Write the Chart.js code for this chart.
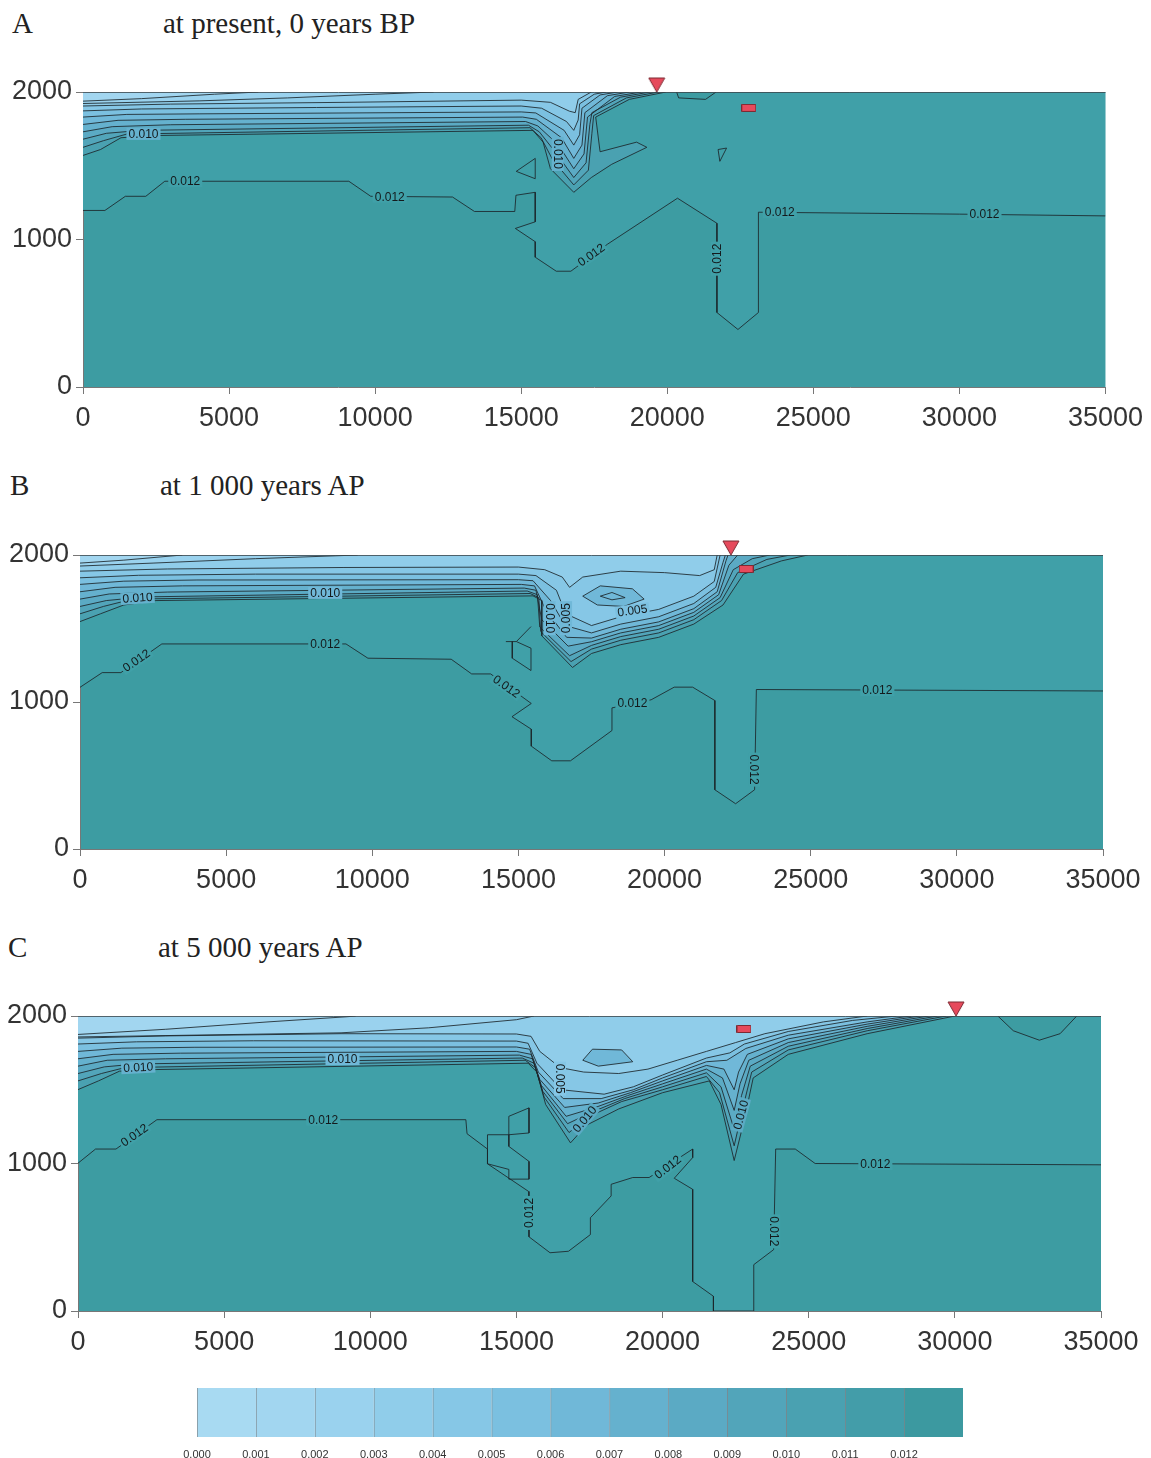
<!DOCTYPE html>
<html>
<head>
<meta charset="utf-8">
<script src="https://cdn.jsdelivr.net/npm/chart.js@4.4.1/dist/chart.umd.min.js"></script>
<style>
  body { margin: 0; background: #fff; width: 1151px; height: 1458px; position: relative; overflow: hidden; }
  .ttl { position: absolute; font-family: 'Liberation Serif', 'Times New Roman', serif; font-size: 29px; line-height: 29px; color: #222; white-space: nowrap; }
  canvas { position: absolute; }
</style>
</head>
<body>
<div class="ttl" style="left:12px;top:9px">A</div>
<div class="ttl" style="left:163px;top:9px">at present, 0 years BP</div>
<div class="ttl" style="left:10px;top:471px">B</div>
<div class="ttl" style="left:160px;top:471px">at 1 000 years AP</div>
<div class="ttl" style="left:8px;top:933px">C</div>
<div class="ttl" style="left:158px;top:933px">at 5 000 years AP</div>

<script>
// axis ticks
const xTicks = [0, 5000, 10000, 15000, 20000, 25000, 30000, 35000];
const yTicks = [0, 1000, 2000];

// colour scale (0.000 .. 0.012)
const scaleLabels = ['0.000', '0.001', '0.002', '0.003', '0.004', '0.005', '0.006', '0.007', '0.008', '0.009', '0.010', '0.011', '0.012'];
const cellColors = ['#a8daf2', '#a2d6f0', '#9ad2ee', '#90cdea', '#86c7e6', '#7bc0e0', '#70b8d8', '#65b1ce', '#5baac4', '#52a5ba', '#4aa1b1', '#439da9', '#3c99a0'];
const bodyColor = '#3d9ca2';
const nearBodyColor = '#40a0a8';

// well (triangle) and gauge (rectangle) positions
const wellX = [19640, 22270, 30040];
const gaugePts = [[22790, 1892], [22790, 1905], [22785, 1912]];

// ---------- A: at present ----------
const A12 = [[0,1197],[750,1197],[1450,1293],[2150,1293],[2800,1395],[9100,1395],[9850,1293],[12650,1288],[13400,1190],[14780,1190],[14820,1300],[15480,1320],[15480,1120],[14800,1075],[15480,985],[15480,880],[16200,785],[16700,785],[17960,969],[20350,1280],[21700,1110],[21700,505],[22420,390],[23120,505],[23120,1185],[30000,1172],[35000,1160]];
const A11 = [[0,1570],[600,1610],[1300,1690],[2500,1705],[15400,1740],[15750,1660],[16000,1480],[16800,1320],[17400,1420],[18100,1510],[19300,1625],[18950,1660],[17700,1595],[17550,1830],[18700,1950],[19950,2000]];
const A10 = [[0,1625],[700,1670],[1500,1715],[15300,1758],[15680,1690],[16080,1540],[16800,1370],[17300,1470],[17420,1720],[17480,1840],[18600,1960],[19700,2000]];
const A9 = [[0,1680],[800,1720],[2000,1740],[15250,1775],[15620,1730],[16180,1590],[16800,1420],[17220,1520],[17350,1780],[17420,1860],[18400,1965],[19400,2000]];
const A8 = [[0,1730],[1000,1765],[3000,1778],[15150,1800],[15570,1770],[16280,1640],[16800,1480],[17150,1580],[17270,1830],[18200,1970],[19100,2000]];
const A7 = [[0,1780],[1200,1808],[3500,1815],[15050,1830],[15520,1815],[16380,1690],[16800,1550],[17080,1640],[17180,1860],[17950,1975],[18700,2000]];
const A6 = [[0,1830],[1500,1848],[4000,1852],[15000,1865],[15500,1858],[16470,1740],[16800,1640],[17000,1710],[17080,1890],[17700,1980],[18300,2000]];
const A5 = [[0,1872],[2000,1885],[8000,1895],[15000,1905],[15700,1890],[16550,1800],[16800,1740],[16950,1810],[17000,1920],[17500,1985],[17900,2000]];
const A4 = [[0,1905],[3000,1918],[9000,1930],[15000,1945],[16000,1930],[16650,1870],[16850,1860],[16950,1950],[17400,2000]];
const A3 = [[0,1922],[4000,1940],[7000,1960],[10000,1985],[12000,2000]];
const A2 = [[0,1938],[2000,1955],[4500,1985],[6000,2000]];
const A_top = [[20320,2000],[20390,1960],[21310,1950],[21670,2000]];
const A_tri1 = [[15480,1550],[14830,1462],[15480,1412],[15480,1550]];
const A_tri2 = [[21740,1610],[22030,1620],[21800,1530],[21740,1610]];
const labelsA = [[2070,1716,'0.010',0],[3500,1395,'0.012',0],[10500,1290,'0.012',0],[16250,1580,'0.010',90],[17400,895,'0.012',-35],[21700,870,'0.012',-90],[23850,1185,'0.012',0],[30860,1172,'0.012',0]];

// ---------- B: 1 000 years AP ----------
const B12 = [[0,1100],[760,1200],[1400,1200],[2800,1395],[9100,1395],[9850,1298],[12700,1291],[13400,1191],[14050,1191],[15440,990],[14780,900],[15440,815],[15440,700],[16140,600],[16780,600],[18200,806],[18200,960],[19540,1015],[20330,1101],[20960,1101],[21720,1010],[21720,403],[22430,308],[23080,403],[23140,1085],[35000,1075]];
const B11 = [[0,1547],[700,1600],[1500,1660],[2600,1690],[15500,1722],[15800,1690],[15800,1450],[16850,1235],[17500,1330],[18500,1390],[19800,1440],[21000,1530],[22000,1660],[22700,1870],[24000,1960],[24900,2000]];
const B10 = [[0,1600],[800,1650],[1800,1700],[15400,1738],[15700,1710],[15760,1480],[16800,1275],[17500,1360],[18500,1420],[19800,1470],[21000,1560],[21950,1690],[22500,1880],[23500,1970],[24300,2000]];
const B9 = [[0,1650],[900,1690],[2200,1715],[15300,1755],[15650,1730],[15730,1510],[16750,1315],[17500,1385],[18500,1445],[19800,1495],[21000,1585],[21900,1710],[22350,1900],[23000,1975],[23600,2000]];
const B8 = [[0,1700],[1000,1735],[3000,1748],[15200,1775],[15600,1760],[15800,1560],[16700,1380],[17500,1410],[18500,1470],[19800,1520],[21000,1610],[21850,1730],[22200,1930],[22500,2000]];
const B7 = [[0,1750],[1200,1780],[3500,1790],[15100,1800],[15550,1790],[15950,1620],[16650,1440],[17500,1435],[18500,1495],[19800,1545],[21000,1635],[21800,1750],[22100,1960],[22170,2000]];
const B6 = [[0,1800],[1500,1822],[4000,1830],[15000,1832],[15500,1825],[16100,1690],[16600,1520],[17500,1470],[18500,1530],[19800,1580],[21000,1670],[21750,1780],[22000,1950],[22080,2000]];
const B5 = [[0,1845],[2000,1862],[6000,1870],[15000,1870],[15600,1860],[16300,1760],[16620,1600],[17500,1520],[18500,1580],[19800,1630],[21000,1720],[21700,1820],[21900,2000]];
const B4 = [[0,1890],[3000,1905],[9000,1915],[15000,1918],[15900,1900],[16500,1850],[16750,1780],[17200,1850],[18500,1890],[20000,1880],[21200,1860],[21700,1900],[21800,2000]];
const B3 = [[0,1925],[2500,1945],[6000,1975],[9500,2000]];
const B2 = [[0,1945],[1500,1965],[3500,2000]];
const B_loop1 = [[17200,1720],[17700,1660],[18600,1650],[19300,1700],[18900,1770],[17800,1790],[17200,1720]];
const B_loop2 = [[17800,1720],[18200,1695],[18650,1710],[18200,1745],[17800,1720]];
const B_k1 = [[15430,1513],[14930,1411],[14570,1411]];
const B_k2 = [[14790,1411],[14790,1298],[15430,1214],[15430,1366],[14930,1411]];
const labelsB = [[1970,1708,'0.010',-4],[8390,1742,'0.010',0],[1930,1282,'0.012',-35],[8390,1395,'0.012',0],[14590,1105,'0.012',35],[16070,1570,'0.010',90],[16630,1570,'0.005',-90],[18900,1622,'0.005',-8],[18900,990,'0.012',0],[23060,540,'0.012',90],[27280,1080,'0.012',0]];

// ---------- C: 5 000 years AP ----------
const C12 = [[0,1002],[600,1098],[1300,1098],[2700,1297],[13270,1297],[13310,1202],[14010,1098],[14010,998],[15420,810],[15430,503],[16150,395],[16780,405],[17530,518],[17530,632],[18240,780],[18240,859],[18980,905],[19540,905],[21030,1098],[21030,1040],[20400,900],[21030,825],[21030,200],[21740,100],[21740,0],[23120,0],[23120,314],[23800,416],[23870,1098],[24540,1098],[25220,1000],[35000,991]];
const C11 = [[0,1501],[700,1560],[1420,1626],[2700,1637],[15400,1680],[15700,1620],[16000,1400],[16850,1140],[17400,1260],[18500,1370],[20000,1480],[21600,1560],[22000,1400],[22450,1020],[22800,1300],[23100,1580],[24300,1740],[27000,1880],[30000,2000]];
const C10 = [[0,1560],[800,1610],[1600,1650],[15300,1700],[15650,1650],[15950,1450],[16800,1210],[17500,1320],[18600,1420],[20000,1500],[21500,1590],[21950,1480],[22450,1120],[22750,1380],[23050,1620],[24300,1770],[27000,1900],[29700,2000]];
const C9 = [[0,1610],[900,1655],[2000,1675],[15200,1715],[15600,1680],[15900,1490],[16750,1270],[17600,1350],[18700,1440],[20000,1520],[21500,1615],[22000,1520],[22450,1230],[22700,1460],[23000,1660],[24300,1795],[27000,1915],[29400,2000]];
const C8 = [[0,1660],[1000,1700],[3000,1710],[15100,1735],[15550,1710],[15850,1530],[16700,1320],[17700,1380],[18800,1460],[20000,1540],[21500,1640],[22050,1580],[22450,1360],[22650,1540],[22950,1700],[24300,1820],[27000,1930],[29100,2000]];
const C7 = [[0,1710],[1200,1740],[3500,1748],[15000,1760],[15500,1740],[15800,1570],[16650,1380],[17800,1410],[18900,1480],[20000,1560],[21500,1665],[22100,1640],[22450,1500],[22600,1620],[22900,1740],[24300,1845],[27000,1945],[28800,2000]];
const C6 = [[0,1760],[1500,1782],[4000,1788],[15000,1790],[15450,1775],[15750,1620],[16600,1440],[17900,1440],[19000,1500],[20000,1580],[21500,1690],[22200,1700],[22850,1780],[24300,1870],[27000,1960],[28500,2000]];
const C5 = [[0,1810],[2000,1825],[6000,1832],[15000,1830],[15400,1815],[15700,1680],[16550,1500],[18000,1470],[19000,1520],[20000,1600],[21500,1715],[22300,1750],[22800,1810],[24300,1895],[26500,1970],[28000,2000]];
const C4 = [[0,1850],[3000,1865],[9000,1880],[15000,1878],[15500,1862],[15800,1760],[16500,1650],[17300,1620],[18500,1610],[19500,1640],[20500,1700],[21500,1760],[22500,1820],[23500,1880],[25500,1960],[27000,2000]];
const C3 = [[0,1875],[3000,1910],[6500,1960],[9200,1995],[9500,2000]];
const C2 = [[0,1858],[9000,1886],[12000,1920],[15000,1975],[15600,2000]];
const C_bump = [[31470,2000],[32000,1900],[32890,1836],[33600,1880],[34170,2000]];
const C_loop1 = [[17270,1700],[17800,1660],[18980,1690],[18600,1770],[17600,1775],[17270,1700]];
const C_k1 = [[14010,1098],[14010,1195],[14740,1195],[14740,1320],[15430,1377],[15430,1207],[14740,1195]];
const C_k2 = [[14740,1195],[14740,1116],[15430,1014],[15430,894],[14740,894],[14740,960],[14010,998]];
const labelsC = [[2060,1651,'0.010',-3],[9050,1708,'0.010',0],[1930,1192,'0.012',-35],[8390,1297,'0.012',0],[15420,665,'0.012',-90],[16490,1575,'0.005',90],[17340,1300,'0.010',-50],[22680,1330,'0.010',-75],[20180,975,'0.012',-38],[23820,540,'0.012',90],[27280,996,'0.012',0]];

const panels = [
  { id: 'A', top: 92, bottom: 387, left: 83, right: 1106,
    bands: [[A12,12],[A11,11],[A10,10],[A9,9],[A8,8],[A7,7],[A6,6],[A5,5],[A4,4],[A3,3],[A2,2]],
    bumps: [A_top], loops: [], islands: [A_tri1, A_tri2], labels: labelsA, well: wellX[0], gauge: gaugePts[0] },
  { id: 'B', top: 555, bottom: 849, left: 80, right: 1103,
    bands: [[B12,12],[B11,11],[B10,10],[B9,9],[B8,8],[B7,7],[B6,6],[B5,5],[B4,4],[B3,3],[B2,2]],
    bumps: [], loops: [B_loop1, B_loop2], islands: [B_k1, B_k2], labels: labelsB, well: wellX[1], gauge: gaugePts[1] },
  { id: 'C', top: 1016, bottom: 1311, left: 78, right: 1101,
    bands: [[C12,12],[C11,11],[C10,10],[C9,9],[C8,8],[C7,7],[C6,6],[C5,5],[C4,4],[C2,3],[C3,2]],
    bumps: [C_bump], loops: [C_loop1], islands: [C_k1, C_k2], labels: labelsC, well: wellX[2], gauge: gaugePts[2] }
];

const lineColor = 'rgba(28,38,42,0.85)';
const tickFont = { family: "'Liberation Sans', Arial, sans-serif", size: 27 };

function pts(arr) { return arr.map(p => ({ x: p[0], y: p[1] })); }

function lineSet(arr, fill, color) {
  return { data: pts(arr), showLine: true, pointRadius: 0, tension: 0,
    borderColor: lineColor, borderWidth: 1,
    fill: fill || false, backgroundColor: color || 'transparent' };
}

function bandColor(level) {
  return level === 12 ? nearBodyColor : cellColors[level - 1];
}

function markerCanvas(kind) {
  const c = document.createElement('canvas');
  const g = c.getContext('2d');
  if (kind === 'tri') {
    c.width = 18; c.height = 30;
    g.beginPath(); g.moveTo(1, 1); g.lineTo(17, 1); g.lineTo(9, 15); g.closePath();
  } else {
    c.width = 15; c.height = 8;
    g.beginPath(); g.rect(0.5, 0.5, 14, 7);
  }
  g.fillStyle = '#e64a5c'; g.fill();
  g.strokeStyle = '#7d2a33'; g.lineWidth = 1; g.stroke();
  return c;
}

const plotBg = {
  id: 'plotBg',
  beforeDraw(chart) {
    const { ctx, chartArea: a } = chart;
    ctx.save();
    ctx.fillStyle = bodyColor;
    ctx.fillRect(a.left, a.top, a.right - a.left, a.bottom - a.top);
    ctx.restore();
  },
  afterDatasetsDraw(chart) {
    const { ctx, chartArea: a } = chart;
    ctx.save();
    ctx.strokeStyle = 'rgba(60,70,75,0.8)';
    ctx.lineWidth = 1;
    ctx.beginPath(); ctx.moveTo(a.left, a.top + 0.5); ctx.lineTo(a.right, a.top + 0.5); ctx.stroke();
    ctx.restore();
  }
};

// contour value labels; the box behind each label takes the brightest nearby fill colour
const contourLabels = {
  id: 'contourLabels',
  afterDatasetsDraw(chart, args, opts) {
    const { ctx, scales: { x, y } } = chart;
    (opts.items || []).forEach(([vx, vy, text, rot]) => {
      const px = x.getPixelForValue(vx), py = y.getPixelForValue(vy);
      const a = rot * Math.PI / 180;
      let best = null, bestSum = -1;
      [8, -8, 11, -11].forEach(off => {
        const sx = Math.round(px + Math.sin(a) * off), sy = Math.round(py - Math.cos(a) * off);
        const d = ctx.getImageData(sx, sy, 1, 1).data;
        const sum = d[0] + d[1] + d[2];
        if (sum > bestSum) { bestSum = sum; best = d; }
      });
      ctx.save();
      ctx.translate(px, py);
      ctx.rotate(a);
      ctx.font = "12px 'Liberation Sans', Arial, sans-serif";
      const w = ctx.measureText(text).width;
      ctx.fillStyle = 'rgb(' + best[0] + ',' + best[1] + ',' + best[2] + ')';
      ctx.fillRect(-w / 2 - 2, -6, w + 4, 12);
      ctx.fillStyle = '#141a1c';
      ctx.textAlign = 'center';
      ctx.textBaseline = 'middle';
      ctx.fillText(text, 0, 0.5);
      ctx.restore();
    });
  }
};

const tri = markerCanvas('tri');
const gaugeBox = markerCanvas('rect');

panels.forEach(p => {
  const padTop = 37, axisH = 58;
  const cv = document.createElement('canvas');
  cv.width = 1151;
  cv.height = (p.bottom - p.top) + padTop + axisH;
  cv.style.left = '0px';
  cv.style.top = (p.top - padTop) + 'px';
  document.body.appendChild(cv);

  const datasets = [];
  p.bands.forEach(([arr, level]) => datasets.push(lineSet(arr, 'end', bandColor(level))));
  p.bumps.forEach(arr => datasets.push(lineSet(arr, 'shape', bodyColor)));
  p.loops.forEach(arr => datasets.push(lineSet(arr, 'shape', cellColors[6])));
  p.islands.forEach(arr => datasets.push(lineSet(arr, false)));
  datasets.push({ data: [{ x: p.well, y: 2000 }], pointStyle: tri, pointRadius: 9, clip: false });
  datasets.push({ data: [{ x: p.gauge[0], y: p.gauge[1] }], pointStyle: gaugeBox, pointRadius: 7, clip: false });
  datasets.forEach((d, i) => { d.order = datasets.length - i; });

  new Chart(cv, {
    type: 'scatter',
    data: { datasets },
    options: {
      responsive: false,
      animation: false,
      devicePixelRatio: 1,
      layout: { padding: { top: padTop, right: 1151 - p.right, left: 0, bottom: 0 } },
      plugins: {
        legend: { display: false },
        tooltip: { enabled: false },
        filler: { drawTime: 'beforeDatasetsDraw', propagate: false },
        contourLabels: { items: p.labels }
      },
      scales: {
        x: {
          type: 'linear', min: 0, max: 35000,
          afterBuildTicks: s => { s.ticks = xTicks.map(v => ({ value: v })); },
          afterFit: s => { s.height = axisH; },
          grid: { drawOnChartArea: false, tickLength: 7, color: '#777' },
          border: { color: '#777' },
          ticks: { font: tickFont, color: '#333', padding: 8, maxRotation: 0, autoSkip: false, callback: v => String(v) }
        },
        y: {
          type: 'linear', min: 0, max: 2000,
          afterBuildTicks: s => { s.ticks = yTicks.map(v => ({ value: v })); },
          afterFit: s => { s.width = p.left; },
          grid: { drawOnChartArea: false, tickLength: 7, color: '#777' },
          border: { color: '#777' },
          ticks: { font: tickFont, color: '#333', padding: 4, callback: v => String(v) }
        }
      }
    },
    plugins: [plotBg, contourLabels]
  });
});

// colour scale bar
const cb = document.createElement('canvas');
cb.width = 820; cb.height = 83;
cb.style.left = '170px'; cb.style.top = '1375px';
document.body.appendChild(cb);
new Chart(cb, {
  type: 'bar',
  data: {
    labels: [''],
    datasets: cellColors.map((col, i) => ({
      label: scaleLabels[i], data: [1], backgroundColor: col,
      borderColor: 'rgba(70,80,85,0.7)', borderWidth: { left: 1, right: 0, top: 0, bottom: 0 },
      borderSkipped: false, barPercentage: 1, categoryPercentage: 1
    }))
  },
  options: {
    indexAxis: 'y',
    responsive: false,
    animation: false,
    devicePixelRatio: 1,
    layout: { padding: { left: 27, right: 27, top: 13, bottom: 0 } },
    plugins: { legend: { display: false }, tooltip: { enabled: false } },
    scales: {
      x: {
        type: 'linear', min: 0, max: 13, stacked: true,
        afterBuildTicks: s => { s.ticks = scaleLabels.map((t, i) => ({ value: i })); },
        afterFit: s => { s.height = 21; },
        grid: { display: false }, border: { display: false },
        ticks: { callback: v => scaleLabels[v], font: { family: "'Liberation Sans', Arial, sans-serif", size: 11 }, color: '#333', padding: 3, maxRotation: 0, autoSkip: false }
      },
      y: { stacked: true, display: false }
    }
  }
});
</script>
</body>
</html>
